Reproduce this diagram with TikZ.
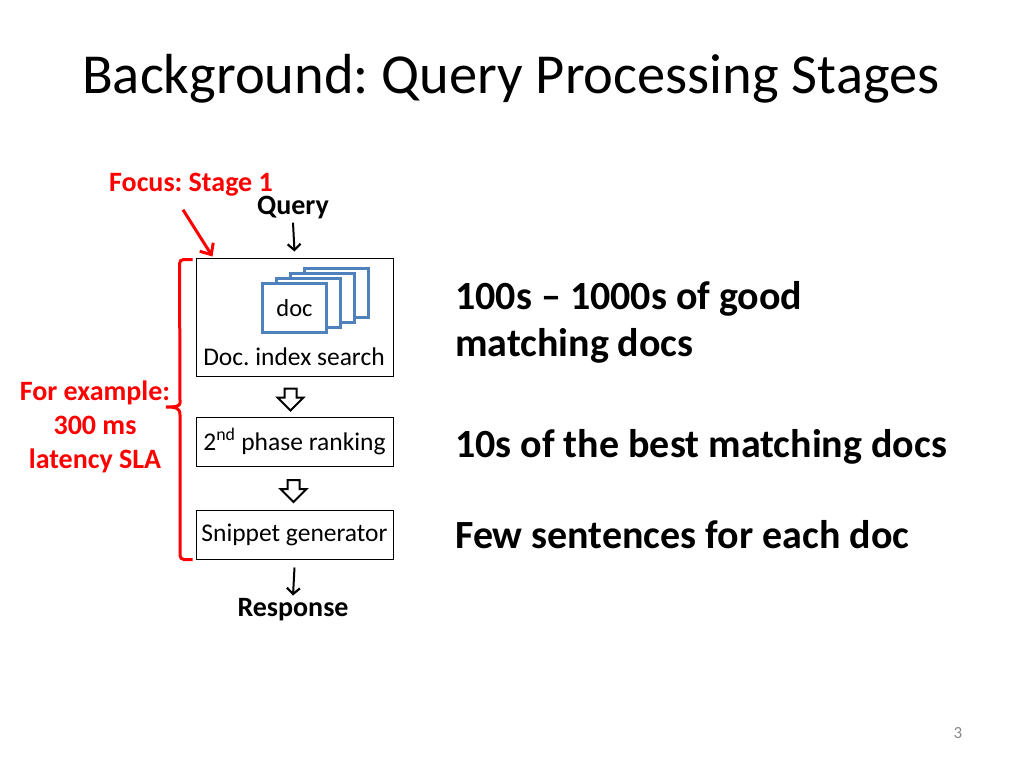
\documentclass[tikz,border=0pt]{standalone}
\usepackage{fontspec}
\setmainfont{Carlito}
\frenchspacing
\usetikzlibrary{positioning,calc,shapes.arrows,arrows.meta}
\definecolor{docblue}{RGB}{79,129,189}
\definecolor{pagegray}{RGB}{137,137,137}

\tikzset{
    stagebox/.style={draw,line width=1pt,minimum width=197pt,minimum height=49pt,inner sep=0pt,font=\fontsize{25.5}{30}\selectfont},
    doccard/.style={draw=docblue,line width=2.2pt,fill=white,minimum width=64pt,minimum height=49pt,inner sep=0pt,font=\fontsize{24.5}{30}\selectfont},
    hollowarrow/.style={single arrow,draw,line width=2pt,fill=white,shape border rotate=270,minimum height=22pt,inner sep=5pt,single arrow head extend=7pt,single arrow tip angle=90},
    flowlabel/.style={font=\fontsize{28}{34}\selectfont\bfseries,inner sep=0pt},
    redlabel/.style={text=red,font=\fontsize{28}{34}\selectfont\bfseries,inner sep=0pt,align=center},
    note/.style={font=\fontsize{40}{47}\selectfont\bfseries,inner sep=0pt,anchor=base west,align=left},
    flowarrow/.style={line width=2pt,-{Straight Barb[length=6pt,width=13pt,line width=2.2pt]}},
}

\begin{document}
\begin{tikzpicture}[x=1pt,y=-1pt]
    \useasboundingbox[fill=white] (0,0) rectangle (1024,768);
    \node [anchor=base west,inner sep=0pt,font=\fontsize{56.5}{68}\selectfont] (title) at (82,93) {Background: Query Processing Stages};

    % the three stages
    \node [stagebox,minimum height=118pt] (search) at (294.5,317) {};
    \node [anchor=base,inner sep=0pt,font=\fontsize{25.5}{30}\selectfont] (searchtext) at (294,365) {Doc. index search};
    \foreach \i in {3,2,1}
        \node [doccard] (doc\i) at (294.5+14*\i,308-5*\i) {};
    \node [doccard] (doc0) at (294.5,308) {doc};
    \node [stagebox,below=40pt of search] (rank) {2\textsuperscript{nd} phase ranking};
    \node [stagebox,below=43pt of rank] (snippet) {Snippet generator};

    \node [hollowarrow] (gap1) at ($(search.south)!0.5!(rank.north)+(-4,0)$) {};
    \node [hollowarrow] (gap2) at ($(rank.south)!0.5!(snippet.north)+(-1,0)$) {};

    % in and out
    \node [flowlabel] (query) at (293,208) {Query};
    \node [flowlabel] (response) at (293,610) {Response};
    \draw [ flowarrow ] ([yshift=-3pt]query.south) -- ([yshift=6pt]search.north);
    \draw [ flowarrow ] ([yshift=-8pt]snippet.south) -- ([yshift=3pt]response.north);

    % red notes on the left
    \node [redlabel] (focus) at (191,185) {Focus: Stage 1};
    \draw [ red,line width=3pt,-{Straight Barb[length=9pt,width=16pt]} ] ([xshift=-8pt,yshift=-13pt]focus.south) -- ([xshift=17pt,yshift=1pt]search.north west);
    \draw [ red,line width=3pt,rounded corners=4pt ] ([xshift=-3pt,yshift=-2pt]search.north west) -- ++(-13,0) -- (180,399)
        [sharp corners] .. controls (180,406) and (176,407) .. (166,407) .. controls (176,407) and (180,408) .. (180,415)
        [rounded corners=4pt] |- ([xshift=-3pt]snippet.south west);
    \node [redlabel] (sla) at (95,427) {For example:\\300 ms\\latency SLA};

    % what each stage gives
    \node [note] (docsnote) at (455,356) {100s -- 1000s of good\\matching docs};
    \node [note] (ranknote) at (455,457) {10s of the best matching docs};
    \node [note] (snipnote) at (455,548) {Few sentences for each doc};

    \node [text=pagegray,font=\fontsize{17}{20}\selectfont] (pagenum) at (958,733) {3};
\end{tikzpicture}
\end{document}
